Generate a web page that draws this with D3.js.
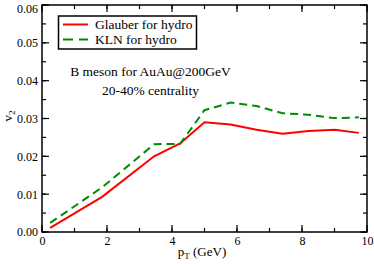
<!DOCTYPE html>
<html><head><meta charset="utf-8">
<script src="https://cdn.jsdelivr.net/npm/d3@7"></script>
<style>body{margin:0;background:#fff}svg{display:block}</style>
</head><body>
<script>
const pT = [0.25, 1.85, 3.45, 4.25, 5.0, 5.8, 6.6, 7.4, 8.2, 9.0, 9.75];
const glauber = [0.0011, 0.0093, 0.0200, 0.0234, 0.0290, 0.0284, 0.0270, 0.0260, 0.0267, 0.0270, 0.0262];
const kln = [0.0024, 0.0118, 0.0232, 0.0233, 0.0322, 0.0342, 0.0333, 0.0314, 0.0310, 0.0301, 0.0303];
const xTicks = [0, 2, 4, 6, 8, 10];
const yTicks = [0, 0.01, 0.02, 0.03, 0.04, 0.05, 0.06];
const seriesNames = ["Glauber for hydro", "KLN for hydro"];

const FONT = "'Liberation Serif', 'Times New Roman', serif";
const W = 374, H = 264;
const m = {l: 42, r: 7, t: 5, b: 32};
const svg = d3.select("body").append("svg").attr("width", W).attr("height", H);
const x = d3.scaleLinear().domain([0, 10]).range([m.l, W - m.r]);
const y = d3.scaleLinear().domain([0, 0.06]).range([H - m.b, m.t]);

const xMinor = d3.range(0, 10.01, 1), yMinor = d3.range(0, 0.0601, 0.005);
function ticks(sel, vals, scale, orient, len) {
  vals.forEach(v => {
    if (orient === "b") sel.append("line").attr("x1", scale(v)).attr("x2", scale(v)).attr("y1", y(0)).attr("y2", y(0) - len);
    if (orient === "t") sel.append("line").attr("x1", scale(v)).attr("x2", scale(v)).attr("y1", y(0.06)).attr("y2", y(0.06) + len);
    if (orient === "l") sel.append("line").attr("y1", scale(v)).attr("y2", scale(v)).attr("x1", x(0)).attr("x2", x(0) + len);
    if (orient === "r") sel.append("line").attr("y1", scale(v)).attr("y2", scale(v)).attr("x1", x(10)).attr("x2", x(10) - len);
  });
}
const tk = svg.append("g").attr("stroke", "#000").attr("stroke-width", 1.2);
ticks(tk, xMinor, x, "b", 4); ticks(tk, xMinor, x, "t", 4);
ticks(tk, yMinor, y, "l", 4); ticks(tk, yMinor, y, "r", 4);
ticks(tk, xTicks, x, "b", 7); ticks(tk, xTicks, x, "t", 7);
ticks(tk, yTicks, y, "l", 7); ticks(tk, yTicks, y, "r", 7);

const xa = svg.append("g").attr("transform", `translate(0,${y(0)})`)
  .call(d3.axisBottom(x).tickValues(xTicks).tickSize(0).tickPadding(4).tickFormat(d3.format("d")));
xa.select(".domain").remove();
xa.selectAll("text").style("font-size", "12px").style("font-family", FONT).attr("fill", "#000");
const ya = svg.append("g").attr("transform", `translate(${x(0)},0)`)
  .call(d3.axisLeft(y).tickValues(yTicks).tickSize(0).tickPadding(4).tickFormat(d3.format(".2f")));
ya.select(".domain").remove();
ya.selectAll("text").style("font-size", "12px").style("font-family", FONT).attr("fill", "#000")
  .attr("dy", d => d === 0.06 ? "0.6em" : "0.32em");

const line = d3.line().x((d, i) => x(pT[i])).y(d => y(d));
svg.append("path").datum(glauber).attr("d", line).attr("fill", "none").attr("stroke", "#ff0000").attr("stroke-width", 2);
svg.append("path").datum(kln).attr("d", line).attr("fill", "none").attr("stroke", "#008b00").attr("stroke-width", 2).attr("stroke-dasharray", "8,5");

svg.append("rect").attr("x", x(0)).attr("y", y(0.06)).attr("width", x(10) - x(0)).attr("height", y(0) - y(0.06))
  .attr("fill", "none").attr("stroke", "#000").attr("stroke-width", 1.5);

const lg = svg.append("g").style("font-family", FONT);
lg.append("rect").attr("x", 58.5).attr("y", 16).attr("width", 138).attr("height", 33).attr("fill", "#fff").attr("stroke", "#000").attr("stroke-width", 1.5);
lg.append("line").attr("x1", 63).attr("x2", 88).attr("y1", 24.5).attr("y2", 24.5).attr("stroke", "#ff0000").attr("stroke-width", 2);
lg.append("line").attr("x1", 63).attr("x2", 88).attr("y1", 39.5).attr("y2", 39.5).attr("stroke", "#008b00").attr("stroke-width", 2).attr("stroke-dasharray", "10,6");
lg.append("text").attr("x", 95).attr("y", 29).style("font-size", "13.5px").text(seriesNames[0]);
lg.append("text").attr("x", 95).attr("y", 44).style("font-size", "13.5px").text(seriesNames[1]);

svg.append("text").attr("x", 150.5).attr("y", 76).attr("text-anchor", "middle").style("font-family", FONT).style("font-size", "13.5px").text("B meson for AuAu@200GeV");
svg.append("text").attr("x", 150.5).attr("y", 95).attr("text-anchor", "middle").style("font-family", FONT).style("font-size", "13.5px").text("20-40% centrality");

const xt = svg.append("text").attr("x", 202).attr("y", 256).attr("text-anchor", "middle").style("font-family", FONT).style("font-size", "13px");
xt.append("tspan").text("p");
xt.append("tspan").style("font-size", "9px").attr("dy", 3).text("T");
xt.append("tspan").attr("dy", -3).text(" (GeV)");
const yt = svg.append("text").attr("transform", "translate(12,116) rotate(-90)").attr("text-anchor", "middle").style("font-family", FONT).style("font-size", "13px");
yt.append("tspan").text("v");
yt.append("tspan").style("font-size", "9px").attr("dy", 3).text("2");
</script>
</body></html>
